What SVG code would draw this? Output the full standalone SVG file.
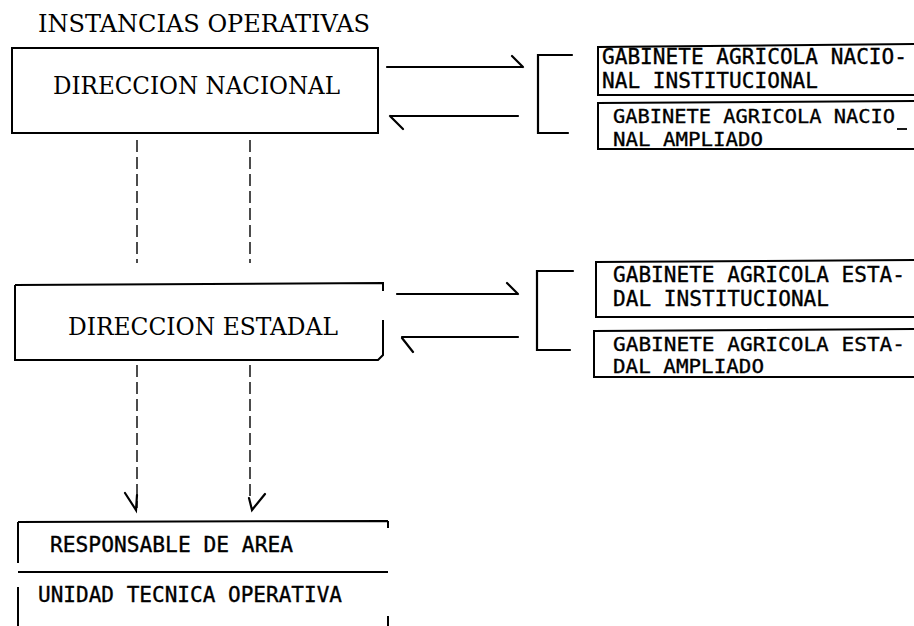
<svg xmlns="http://www.w3.org/2000/svg" width="914" height="626" viewBox="0 0 914 626">
<style>
.box{fill:none;stroke:#000;stroke-width:2}
.ln{fill:none;stroke:#000;stroke-width:2.2;stroke-linecap:round}
.dash{fill:none;stroke:#000;stroke-width:1.4;stroke-dasharray:12 5}
.courier{font-family:"DejaVu Serif","Liberation Serif",serif;font-size:24px;fill:#000}
.type{font-family:"DejaVu Sans Mono","Liberation Mono",monospace;font-size:21px;fill:#000;stroke:#000;stroke-width:0.35}
.small{font-size:20px}
</style>
<rect width="914" height="626" fill="#fff"/>
<text class="courier" x="38" y="32" textLength="332" lengthAdjust="spacingAndGlyphs">INSTANCIAS OPERATIVAS</text>

<g id="direccion-nacional">
<rect class="box" x="12" y="48" width="366" height="85"/>
<text class="courier" x="53" y="94" textLength="287" lengthAdjust="spacingAndGlyphs">DIRECCION NACIONAL</text>
</g>

<g id="gabinete-nacional-institucional">
<path class="box" d="M916 44 L598 47 L598 95 L916 95"/>
<text class="type" x="602" y="64" textLength="305" lengthAdjust="spacingAndGlyphs">GABINETE AGRICOLA NACIO-</text>
<text class="type" x="602" y="88" textLength="216" lengthAdjust="spacingAndGlyphs">NAL INSTITUCIONAL</text>
</g>

<g id="gabinete-nacional-ampliado">
<path class="box" d="M916 101 L598 103 L598 149 L916 149"/>
<text class="type small" x="613" y="123" textLength="282" lengthAdjust="spacingAndGlyphs">GABINETE AGRICOLA NACIO</text>
<line x1="897" y1="129" x2="907" y2="129" stroke="#000" stroke-width="1.8"/>
<text class="type small" x="613" y="146" textLength="150" lengthAdjust="spacingAndGlyphs">NAL AMPLIADO</text>
</g>

<g id="direccion-estadal">
<path class="box" d="M15 285 L383 283 L383 291 M383 320 L383 355 L378 360 L15 360 L15 285"/>
<text class="courier" x="68" y="335" textLength="270" lengthAdjust="spacingAndGlyphs">DIRECCION ESTADAL</text>
</g>

<g id="gabinete-estadal-institucional">
<path class="box" d="M916 260 L596 262 L596 317 L916 317"/>
<text class="type" x="613" y="282" textLength="292" lengthAdjust="spacingAndGlyphs">GABINETE AGRICOLA ESTA-</text>
<text class="type" x="613" y="306" textLength="216" lengthAdjust="spacingAndGlyphs">DAL INSTITUCIONAL</text>
</g>

<g id="gabinete-estadal-ampliado">
<path class="box" d="M916 329 L594 331 L594 377 L916 377"/>
<text class="type small" x="613" y="351" textLength="292" lengthAdjust="spacingAndGlyphs">GABINETE AGRICOLA ESTA-</text>
<text class="type small" x="613" y="373" textLength="151" lengthAdjust="spacingAndGlyphs">DAL AMPLIADO</text>
</g>

<g id="unidad-tecnica">
<path class="box" d="M18 522 L388 521 M388 521 L388 528 M18 522 L18 563 M18 572 L388 572 M18 587 L18 626 M388 616 L388 626"/>
<text class="type" x="50" y="552" textLength="243" lengthAdjust="spacingAndGlyphs">RESPONSABLE DE AREA</text>
<text class="type" x="38" y="602" textLength="304" lengthAdjust="spacingAndGlyphs">UNIDAD TECNICA OPERATIVA</text>
</g>

<g id="connectors">
<path class="ln" d="M387 67 L523 67 M512 56 L523 67"/>
<path class="ln" d="M390 116 L518 116 M390 116 L403 129"/>
<path class="ln" d="M572 55 L538 55 L538 133 L568 133"/>
<path class="ln" d="M397 294 L518 294 M507 283 L518 294"/>
<path class="ln" d="M402 337 L518 337 M402 338 L413 352"/>
<path class="ln" d="M573 271 L537 271 L537 350 L570 350"/>
<line class="dash" x1="137" y1="140" x2="137" y2="263"/>
<line class="dash" x1="250" y1="140" x2="250" y2="263"/>
<line class="dash" x1="137" y1="365" x2="137" y2="508"/>
<line class="dash" x1="250" y1="365" x2="250" y2="500"/>
<path class="ln" d="M125 493 L136 510 L137 495"/>
<path class="ln" d="M249 498 L252 510 L265 494"/>
</g>
</svg>
